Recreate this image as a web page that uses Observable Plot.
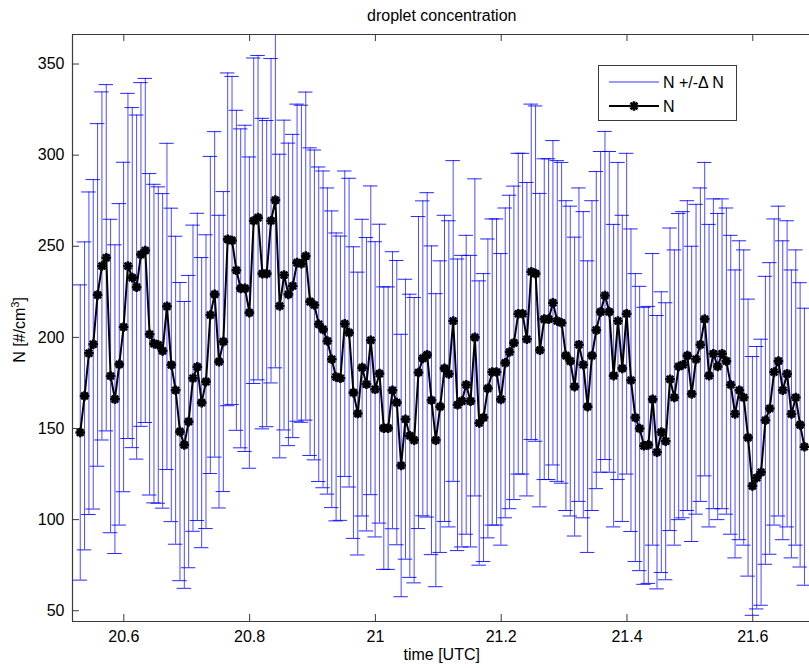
<!DOCTYPE html>
<html><head><meta charset="utf-8">
<script src="https://cdn.jsdelivr.net/npm/d3@7"></script>
<script src="https://cdn.jsdelivr.net/npm/@observablehq/plot@0.6"></script>
<style>
body{margin:0;background:#fff;font-family:"Liberation Sans",Arial,Helvetica,sans-serif;}
#wrap{position:relative;width:809px;height:668px;overflow:hidden;}
.lbl{position:absolute;font-size:16px;line-height:20px;color:#000;white-space:nowrap;}
</style></head><body>
<div id="wrap"></div>
<script>
// droplet concentration N [#/cm^3], one sample per time step
const N = [
147.8,167.9,191.3,196.2,223.3,239.2,243.7,178.8,166.1,185.2,
205.7,239.2,232.8,227.6,245.5,247.7,201.7,196.6,195.8,192.6,
217,184.9,171,148.3,141,153.8,177.6,183.8,164.2,175.7,
212.3,223.6,186.7,197.7,253.8,253.2,236.8,226.9,226.9,213.6,
264,265.7,235,235,264,275.3,217.2,234.2,223.6,228.2,
241,240.4,244.6,219.6,217.8,207.2,204.4,198,188,178.3,
177.6,207.5,202.6,169.7,158.2,183.4,174.3,198.4,171.5,180.1,
150.2,150.2,171,164.2,129.7,155.1,146,143.6,180.7,188.5,
190.4,165.5,143.6,162,183,180,209,163,165,174,
165,200,153,156,172,181,181,166,186,192,
197,213,213,199,236,235,193,210,210,219,
209,208,190,187,173,196,185,162,190,204,
214,223,214,179,209,183,213,176.5,156,150,
140.5,141,166,137,148,143,177,167,184,185,
190,169,188,196,210,179,191,184,191,187,
174,158,171,167,145,118.5,123,126,154.5,161,
181,187,171,180,158,167,152,140];
// uncertainty Delta N
const dN = [
81,84.5,88.5,90.4,94,95.5,95,86,84.7,88.2,
90.4,94.7,93.3,94.4,94.3,94.4,88.2,87.4,86.8,86.3,
89.5,86,84.5,81.8,78.7,80.2,84,84.3,79.6,80.6,
87,89.3,80.3,82.3,91.3,90,87.8,87.5,89.5,85.4,
89.3,89,85.2,84,89,92,83.3,85,83,83.2,
87,87,90,84.4,85,86.3,86.9,84,81.4,79,
78,83.8,84.7,80,77.6,81.4,80.5,84.7,81,82,
77.5,77.5,76,78,72,76.8,77.7,78.3,85.6,86.4,
89,84.7,80.4,80,84,84,88,80,80,82,
80,87,78,79,82,84,84,80,85,86,
86,88,88,86,92,92,86,88,88,89,
88,88,85,85,82,86,84,80,85,87,
88,90,88,83,87,84,88,83,79,78,
76,76,80,75,77,76,83,81,84,84,
85,81,85,86,86,83,85,84,85,84,
82,79,82,81,76,71,72,73,79,80,
84,85,82,84,79,81,78,76];
// sampling grid (hours UTC)
const tStart = 20.5307, tStep = 0.006895;
const xTicks = [20.6, 20.8, 21, 21.2, 21.4, 21.6];
const xTickLabels = ["20.6", "20.8", "21", "21.2", "21.4", "21.6"];
const yTicks = [50, 100, 150, 200, 250, 300, 350];
const xDomain = [20.5184, 21.6902];
const yDomain = [44.1, 366.2];
const titleText = "droplet concentration";
const xLabelText = "time [UTC]";
const legendLabels = ["N +/-\u0394 N", "N"];

const W = 809, H = 668, mL = 72, mR = 0, mT = 34, mB = 47;
const frameW = W - mL - mR, frameH = H - mT - mB;
const capHalf = 0.0115;

const data = N.map((n, i) => ({t: tStart + i * tStep, n, lo: n - dN[i], hi: n + dN[i]}));

const star = {
  draw(ctx, size) {
    const r = Math.sqrt(size / Math.PI), d = r * Math.SQRT1_2;
    ctx.moveTo(-r, 0); ctx.lineTo(r, 0);
    ctx.moveTo(0, -r); ctx.lineTo(0, r);
    ctx.moveTo(-d, -d); ctx.lineTo(d, d);
    ctx.moveTo(-d, d); ctx.lineTo(d, -d);
  }
};
const axisColor = "#3a3a3a";
const blue = "#0000ff";

const plot = Plot.plot({
  width: W, height: H,
  marginLeft: mL, marginRight: mR, marginTop: mT, marginBottom: mB,
  style: {fontSize: "16px", fontFamily: "'Liberation Sans', Arial, Helvetica, sans-serif", color: "#000", background: "#fff", overflow: "visible"},
  x: {domain: xDomain, ticks: xTicks, tickFormat: (d) => xTickLabels[xTicks.indexOf(d)], tickSize: 0, tickPadding: 9, label: null},
  y: {domain: yDomain, ticks: yTicks, tickSize: 0, tickPadding: 8, label: null},
  marks: [
    Plot.ruleX(data, {x: "t", y1: "lo", y2: "hi", stroke: blue, strokeWidth: 1, strokeOpacity: 0.7, clip: true}),
    Plot.ruleY(data, {y: "hi", x1: d => d.t - capHalf, x2: d => d.t + capHalf, stroke: blue, strokeWidth: 1, strokeOpacity: 0.85, clip: true}),
    Plot.ruleY(data, {y: "lo", x1: d => d.t - capHalf, x2: d => d.t + capHalf, stroke: blue, strokeWidth: 1, strokeOpacity: 0.85, clip: true}),
    Plot.line(data, {x: "t", y: "n", stroke: "#000", strokeWidth: 2}),
    Plot.dot(data, {x: "t", y: "n", symbol: star, r: 4.8, stroke: "#000", strokeWidth: 2.6, fill: "none"}),
    Plot.ruleX([xDomain[0]], {stroke: axisColor, strokeWidth: 1.2}),
    Plot.ruleY([yDomain[0]], {stroke: axisColor, strokeWidth: 1.2}),
    Plot.ruleY([yDomain[1]], {stroke: axisColor, strokeWidth: 1.2}),
    Plot.tickX(xTicks, {x: d => d, insetTop: frameH - 7, stroke: axisColor}),
    Plot.tickX(xTicks, {x: d => d, insetBottom: frameH - 7, stroke: axisColor}),
    Plot.tickY(yTicks, {y: d => d, insetRight: frameW - 7, stroke: axisColor})
  ]
});

const wrap = document.getElementById("wrap");
wrap.appendChild(plot);

function addLabel(text, css) {
  const el = document.createElement("div");
  el.className = "lbl";
  el.textContent = text;
  Object.assign(el.style, css);
  wrap.appendChild(el);
  return el;
}
const cx = mL + frameW / 2 + 1;
const tl = addLabel(titleText, {top: "6px"});
tl.style.left = (cx - tl.offsetWidth / 2) + "px";
const xl = addLabel(xLabelText, {top: "645px"});
xl.style.left = (cx - xl.offsetWidth / 2) + "px";

// y label with superscript
const yl = document.createElement("div");
yl.className = "lbl";
yl.innerHTML = "N [#/cm<sup style='font-size:11px;vertical-align:6px;line-height:0'>3</sup>]";
wrap.appendChild(yl);
const yw = yl.offsetWidth;
Object.assign(yl.style, {left: (20 - yw / 2) + "px", top: (330 - 10) + "px", transform: "rotate(-90deg)", transformOrigin: "50% 50%"});

// legend
const ns = "http://www.w3.org/2000/svg";
const leg = document.createElementNS(ns, "svg");
leg.setAttribute("width", 140); leg.setAttribute("height", 57);
Object.assign(leg.style, {position: "absolute", left: "598px", top: "65px"});
leg.innerHTML =
  `<rect x="0.5" y="0.5" width="138" height="55" fill="#fff" stroke="${axisColor}" stroke-width="1"/>` +
  `<line x1="11" x2="61" y1="17" y2="17" stroke="${blue}" stroke-opacity="0.8" stroke-width="1"/>` +
  `<line x1="11" x2="61" y1="41" y2="41" stroke="#000" stroke-width="2"/>` +
  `<path transform="translate(36,41)" d="M-4.8,0L4.8,0M0,-4.8L0,4.8M-3.4,-3.4L3.4,3.4M-3.4,3.4L3.4,-3.4" stroke="#000" stroke-width="2.6"/>` +
  `<text x="65" y="23" font-size="16" font-family="'Liberation Sans', Arial, sans-serif">${legendLabels[0]}</text>` +
  `<text x="65" y="47" font-size="16" font-family="'Liberation Sans', Arial, sans-serif">${legendLabels[1]}</text>`;
wrap.appendChild(leg);
</script>
</body></html>
